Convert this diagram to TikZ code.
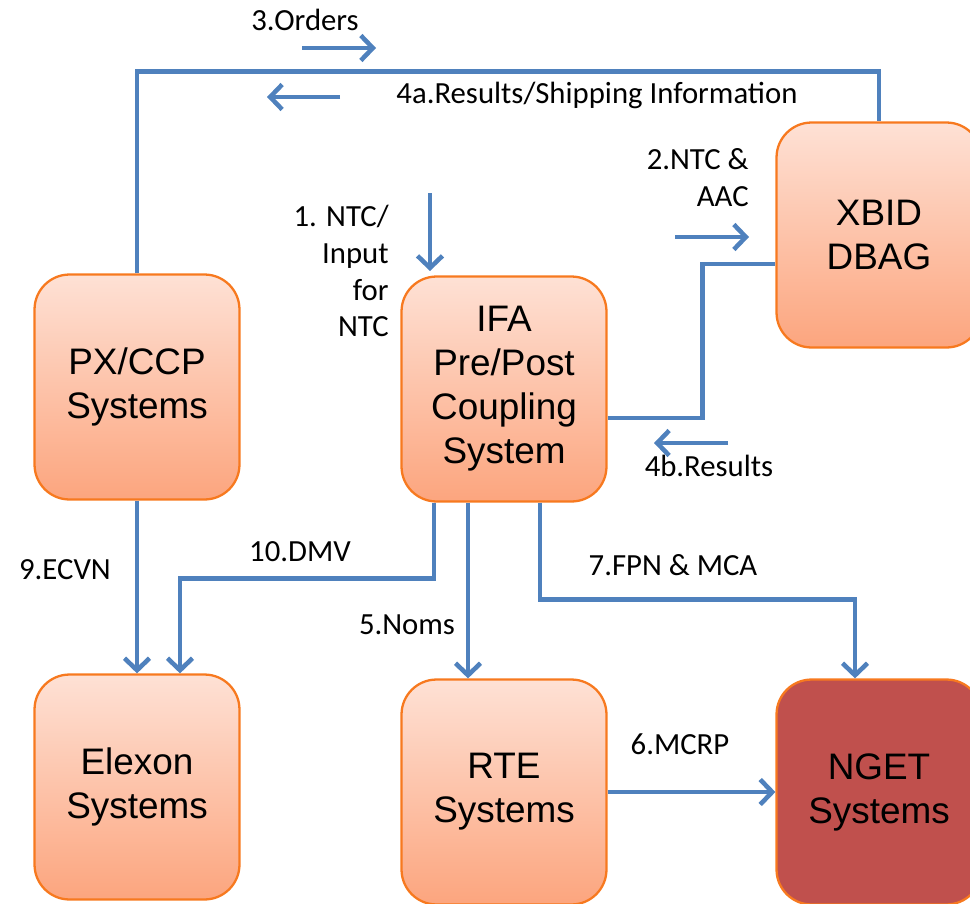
\documentclass[tikz,border=0pt]{standalone}
\usepackage{fontspec}
\setmainfont{Liberation Sans}
\newfontfamily\lblfont{Carlito}
\usepackage{tikz}
\usetikzlibrary{positioning,arrows.meta}
\usepackage{xcolor}
\definecolor{boxtop}{HTML}{FEE1D5}
\definecolor{boxbot}{HTML}{FCA57E}
\definecolor{boxline}{HTML}{F7791F}
\definecolor{flow}{HTML}{4F81BD}
\definecolor{ngetred}{HTML}{C0504D}

\begin{document}
\begin{tikzpicture}[x=0.02cm, y=-0.02cm,
  sys/.style={rectangle, draw=boxline, line width=1.3pt, rounded corners=0.7cm, top color=boxtop, bottom color=boxbot, minimum width=4.1cm, minimum height=4.5cm, align=center, font=\fontsize{21}{25}\selectfont},
  lbl/.style={font=\lblfont\fontsize{17.5}{21}\selectfont, align=center, inner sep=0pt},
  link/.style={draw=flow, line width=2.6pt},
  arrow/.style={link, -{Straight Barb[length=2.4mm, width=5mm]}}
]
\clip (0,0) rectangle (970,903);

\node[sys] (px) at (137,387) {PX/CCP\\Systems};
\node[sys] (ifa) at (504,389) {IFA\\Pre/Post\\Coupling\\System};
\node[sys] (xbid) at (879,235) {XBID\\DBAG};
\node[sys] (elexon) at (137,787) {Elexon\\Systems};
\node[sys] (rte) at (504,792) {RTE\\Systems};
\node[sys, fill=ngetred, top color=ngetred, bottom color=ngetred] (nget) at (879,792) {NGET\\Systems};

% labels
\node[lbl] (lorders) at (305,20) {3.Orders};
\node[lbl] (lresa) at (597,95) {4a.Results/Shipping Information};
\node[lbl, anchor=east, align=right] (lntc) at (389,271) {1. NTC/\\Input\\for\\NTC};
\node[lbl, anchor=east, align=right] (laac) at (749,178) {2.NTC \&\\AAC};
\node[lbl] (lresb) at (709,466) {4b.Results};
\node[lbl] (lecvn) at (65,570) {9.ECVN};
\node[lbl] (ldmv) at (300,552) {10.DMV};
\node[lbl] (lnoms) at (407,625) {5.Noms};
\node[lbl] (lfpn) at (673,565) {7.FPN \& MCA};
\node[lbl] (lmcrp) at (680,744) {6.MCRP};

% free arrows
\coordinate (ord1) at (302,48); \coordinate (ord2) at (376,48);
\coordinate (res1) at (340,97); \coordinate (res2) at (267,97);
\coordinate (ntc1) at (430,193); \coordinate (ntc2) at (430,271);
\coordinate (aac1) at (675,237); \coordinate (aac2) at (749,237);
\coordinate (rsb1) at (728,443); \coordinate (rsb2) at (654,443);

\draw[arrow] (ord1) -- (ord2);
\draw[arrow] (res1) -- (res2);
\draw[arrow] (ntc1) -- (ntc2);
\draw[arrow] (aac1) -- (aac2);
\draw[arrow] (rsb1) -- (rsb2);

% connections
\draw[link] (px.north) -- ++(0,-202) -| (xbid.north);
\draw[link] ([yshift=-0.58cm]ifa.east) -- ++(95,0) |- ([yshift=-0.58cm]xbid.west);
\draw[arrow] (px.south) -- (elexon.north);
\draw[arrow] ([xshift=-1.4cm]ifa.south) -- ++(0,76) -| ([xshift=0.86cm]elexon.north);
\draw[arrow] ([xshift=-0.72cm]ifa.south) -- ([xshift=-0.72cm]rte.north);
\draw[arrow] ([xshift=0.72cm]ifa.south) -- ++(0,97) -| ([xshift=-0.48cm]nget.north);
\draw[arrow] (rte.east) -- (nget.west);
\end{tikzpicture}
\end{document}
